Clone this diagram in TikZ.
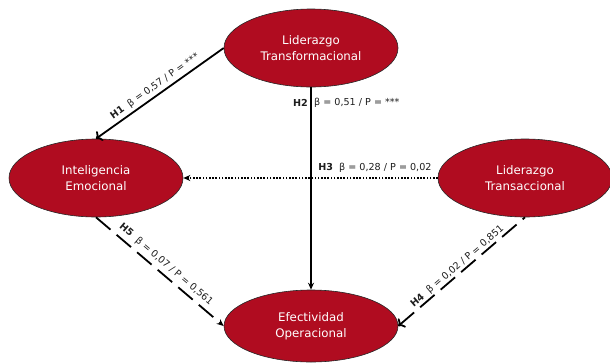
\documentclass[tikz,border=0pt]{standalone}
\usepackage{fontspec}
\setmainfont{DejaVu Sans}
\usetikzlibrary{shapes.geometric,arrows.meta,calc}
\definecolor{construct}{RGB}{176,12,32}
\definecolor{labelgray}{RGB}{30,30,30}
\tikzset{
  construct/.style={ellipse, draw=black!85, line width=0.6pt, fill=construct,
    text=white, minimum width=174pt, minimum height=78pt, inner sep=0pt,
    align=center, font=\fontsize{11.8}{16.5}\selectfont},
  path/.style={line width=1.8pt, -{Stealth[length=7pt,width=6pt]}},
  solidpath/.style={path},
  dottedpath/.style={path, dash pattern=on 1.6pt off 1.6pt},
  dashedpath/.style={path, dash pattern=on 19pt off 8pt},
  coef/.style={font=\fontsize{9.6}{11}\selectfont, text=labelgray, inner sep=2pt},
}
\begin{document}
\begin{tikzpicture}[x=1pt,y=-1pt]
  \useasboundingbox (0,0) rectangle (610,362);

  % constructs
  \node[construct] (tfl) at (311,48)  {Liderazgo\\Transformacional};
  \node[construct] (ie)  at (96,178)  {Inteligencia\\Emocional};
  \node[construct] (tsl) at (525,178) {Liderazgo\\Transaccional};
  \node[construct, minimum height=72pt] (eo) at (311,326) {Efectividad\\Operacional};

  % H1
  \draw[solidpath, <-] (ie.north) -- (tfl.west)
    node[coef, midway, sloped, above, yshift=1pt] (h1) {\textbf{H1}\ \ β = 0,57 / P = ***};
  % H2
  \draw[solidpath] (tfl.south) -- (eo.north);
  \node[coef, anchor=east] (h2a) at ($(tfl.south)+(-1,16)$) {\textbf{H2}};
  \node[coef, anchor=west] (h2b) at ($(tfl.south)+(1,16)$) {β = 0,51 / P = ***};
  % H3
  \draw[dottedpath] (tsl.west) -- (ie.east);
  \node[coef, anchor=south east] (h3) at ($(tsl.west)+(-4,-3)$) {\textbf{H3}\ \ β = 0,28 / P = 0,02};
  % H4
  \draw[dashedpath, <-] (eo.east) -- (tsl.south)
    node[coef, midway, sloped, above, yshift=-1pt] (h4) {\textbf{H4}\ \ β = 0,02 / P = 0,851};
  % H5
  \draw[dashedpath] (ie.south) -- (eo.west)
    node[coef, midway, sloped, above, yshift=2pt] (h5) {\textbf{H5}\ \ β = 0,07 / P = 0,561};
\end{tikzpicture}
\end{document}
